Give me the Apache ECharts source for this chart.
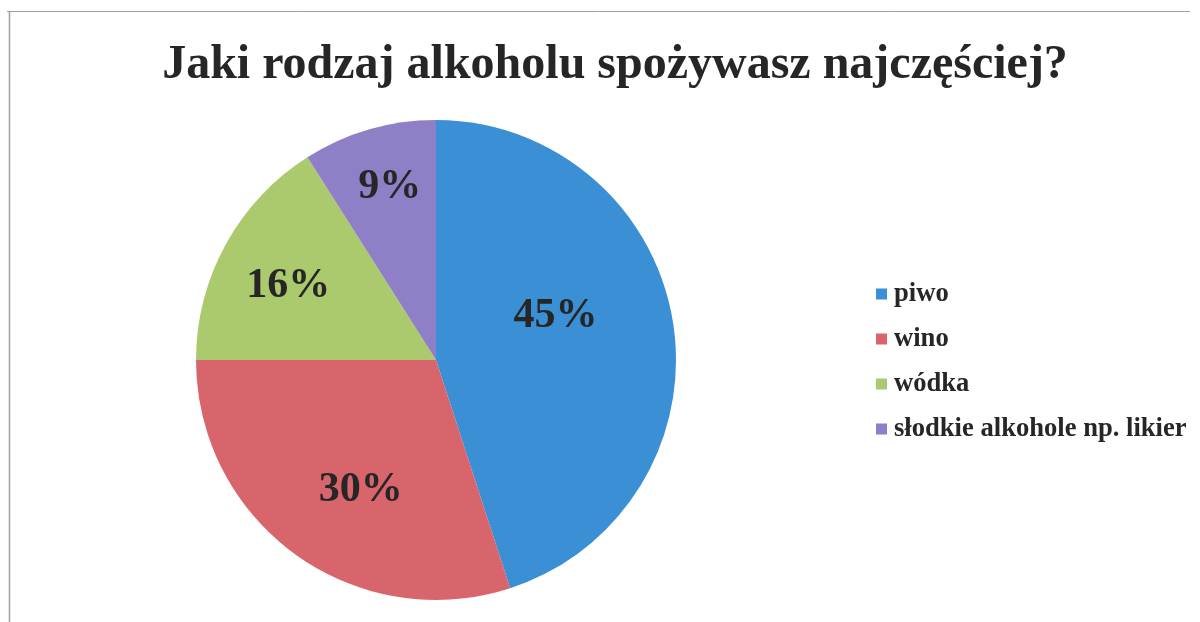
<!DOCTYPE html>
<html>
<head>
<meta charset="utf-8">
<script src="https://cdn.jsdelivr.net/npm/echarts@6/dist/echarts.min.js"></script>
<style>
html,body{margin:0;padding:0;background:#fff;}
#chart{width:1200px;height:622px;}
</style>
</head>
<body>
<div id="chart"></div>
<script>
const titleText = 'Jaki rodzaj alkoholu spożywasz najczęściej?';
const categories = ['piwo', 'wino', 'wódka', 'słodkie alkohole np. likier'];
const values = [45, 30, 16, 9];
const colors = ['#3b8fd5', '#d8646c', '#abc96d', '#8f7fc6'];
const labelOffsets = [[-2, -25], [-3, 31], [-40, -15], [-12, -55]];

const chart = echarts.init(document.getElementById('chart'));
const serif = '"Liberation Serif", "DejaVu Serif", serif';
chart.setOption({
  backgroundColor: '#ffffff',
  animation: false,
  title: {
    text: titleText,
    left: 610,
    textAlign: 'center',
    top: 37,
    textStyle: { fontFamily: serif, fontWeight: 'bold', fontSize: 48, color: '#262626' }
  },
  graphic: [
    { type: 'line', shape: { x1: 7, y1: 11.5, x2: 1190, y2: 11.5 }, style: { stroke: '#a0a0a0', lineWidth: 1 } },
    { type: 'line', shape: { x1: 9.5, y1: 11, x2: 9.5, y2: 622 }, style: { stroke: '#a0a0a0', lineWidth: 1.5 } }
  ],
  legend: {
    orient: 'vertical',
    left: 871,
    top: 274,
    itemWidth: 11,
    itemHeight: 11,
    itemGap: 15,
    icon: 'rect',
    data: categories,
    textStyle: { fontFamily: serif, fontWeight: 'bold', fontSize: 26.6, color: '#262626', lineHeight: 30, padding: [0, 0, 0, 2] }
  },
  series: [{
    type: 'pie',
    center: [436, 360],
    radius: 240,
    startAngle: 90,
    clockwise: true,
    itemStyle: { borderWidth: 0 },
    label: {
      show: true,
      position: 'inside',
      fontFamily: serif,
      fontWeight: 'bold',
      fontSize: 42,
      color: '#262626'
    },
    labelLine: { show: false },
    data: categories.map((c, i) => ({
      name: c,
      value: values[i],
      itemStyle: { color: colors[i] },
      label: { offset: labelOffsets[i], formatter: values[i] + '%' }
    }))
  }]
});
</script>
</body>
</html>
